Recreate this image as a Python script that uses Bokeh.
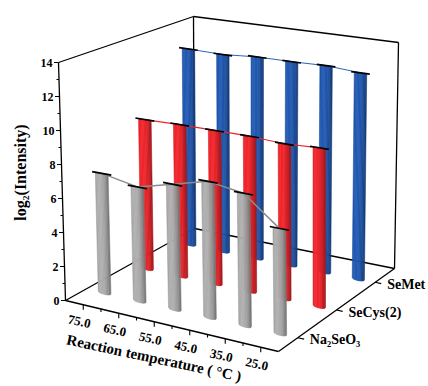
import numpy as np
from bokeh.plotting import figure
from bokeh.models import Range1d
from bokeh.core.properties import value
from bokeh.embed import file_html
from bokeh.resources import INLINE

# ---------------- data ----------------
temps = [75.0, 65.0, 55.0, 45.0, 35.0, 25.0]
series_names = ["Na₂SeO₃", "SeCys(2)", "SeMet"]
na2seo3 = [7.1, 6.7, 7.25, 7.8, 7.5, 5.9]
secys2 = [9.2, 9.25, 9.25, 9.25, 9.15, 9.25]
semet = [12.55, 12.5, 12.65, 12.65, 12.7, 12.55]
z_ticks = [0, 2, 4, 6, 8, 10, 12, 14]
x_minor = [70.0, 60.0, 50.0, 40.0, 30.0]
x_title = "Reaction temperature ( °C )"
z_title = "log₂(Intensity)"

T_LO, T_HI, Z_MAX = 20.0, 80.0, 14.0

# ---------------- camera (layout): box corners -> picture pixels ----------------
CAM = {(0, 0, 0): (65, 300), (0, 0, 1): (58, 62), (0, 1, 0): (194, 228),
       (0, 1, 1): (193, 16), (1, 1, 0): (394, 268), (1, 1, 1): (398, 42),
       (1, 0, 0): (278, 351), (1, 0, 1): (275, 95)}


def proj(u, v, w):
    x = y = 0.0
    for (a, b, c), (px, py) in CAM.items():
        f = (u if a else 1 - u) * (v if b else 1 - v) * (w if c else 1 - w)
        x += f * px
        y += f * py
    return x, y


def U(t):
    return (T_HI - t) / (T_HI - T_LO)


def V(k):
    return (k + 0.5) / len(series_names)


def W(z):
    return z / Z_MAX


p = figure(width=428, height=386, x_range=Range1d(0, 428), y_range=Range1d(386, 0),
           output_backend="svg", toolbar_location=None, min_border=0,
           x_axis_type=None, y_axis_type=None)
p.grid.visible = False
p.outline_line_color = None
p.background_fill_color = "white"

FONT = value("Liberation Serif")


def seg(a, b):
    return [a[0], b[0]], [a[1], b[1]]


C = {k: proj(*k) for k in CAM}
back_edges = [((0, 0, 0), (0, 0, 1)), ((0, 0, 1), (0, 1, 1)), ((0, 1, 1), (1, 1, 1)),
              ((1, 1, 1), (1, 1, 0)), ((0, 1, 0), (0, 1, 1)), ((0, 0, 0), (0, 1, 0)),
              ((0, 1, 0), (1, 1, 0))]
xs, ys = [], []
for a, b in back_edges:
    sx, sy = seg(C[a], C[b])
    xs.append(sx)
    ys.append(sy)
p.multi_line(xs, ys, line_color="black", line_width=1.3)

R = 0.03
NSTRIP = 10


def shade(rgb, t):
    th = np.arcsin(np.clip(t, -1, 1))
    I = 0.70 + 0.32 * np.cos(th + 0.45)
    return "#%02x%02x%02x" % tuple(int(min(255, c * I)) for c in rgb)


def draw_series(vals, k, rgb, line_color, lw):
    v = V(k)
    pxs, pys, cols = [], [], []
    for t, val in zip(temps, vals):
        u = U(t)
        w = W(val)
        pl = proj(u - R, v, 0)
        pr = proj(u + R, v, 0)
        b = 0.3 * abs(pr[0] - pl[0]) / 2
        ts = np.linspace(-1, 1, NSTRIP + 1)
        for i in range(NSTRIP):
            t0, t1 = ts[i], ts[i + 1]
            sub = np.linspace(t0, t1, 4)
            bx, by = [], []
            for tt in sub:
                q = proj(u + tt * R, v, 0)
                bx.append(q[0])
                by.append(q[1] + b * np.sqrt(max(0.0, 1 - tt * tt)))
            q1 = proj(u + t1 * R, v, w)
            q0 = proj(u + t0 * R, v, w)
            pxs.append(bx + [q1[0], q0[0]])
            pys.append(by + [q1[1], q0[1]])
            cols.append(shade(rgb, (t0 + t1) / 2))
    p.patches(pxs, pys, fill_color=cols, line_color=cols, line_width=0.6)
    tops = [proj(U(t), v, W(val)) for t, val in zip(temps, vals)]
    p.line([q[0] for q in tops], [q[1] for q in tops], line_color=line_color, line_width=lw)
    cx, cy = [], []
    for t, val in zip(temps, vals):
        a = proj(U(t) - 1.5 * R, v, W(val))
        bb = proj(U(t) + 1.5 * R, v, W(val))
        sx, sy = seg(a, bb)
        cx.append(sx)
        cy.append(sy)
    p.multi_line(cx, cy, line_color="black", line_width=1.7)


draw_series(semet, 2, (32, 88, 176), "#2a62c4", 1.0)
draw_series(secys2, 1, (238, 36, 42), "#e8262b", 1.2)
draw_series(na2seo3, 0, (172, 172, 172), "#8c8c8c", 1.5)

xs, ys = [], []
for a, b in [((0, 0, 0), (1, 0, 0)), ((1, 0, 0), (1, 1, 0))]:
    sx, sy = seg(C[a], C[b])
    xs.append(sx)
    ys.append(sy)
p.multi_line(xs, ys, line_color="black", line_width=1.3)

tx, ty = [], []
for z in range(0, 15):
    q = proj(0, 0, W(z))
    L = 4.5 if z % 2 == 0 else 2.5
    tx.append([q[0], q[0] - L])
    ty.append([q[1], q[1]])
p.multi_line(tx, ty, line_color="black", line_width=1.1)
zl = [proj(0, 0, W(z)) for z in z_ticks]
p.text([q[0] - 6 for q in zl], [q[1] for q in zl], text=[str(z) for z in z_ticks],
       text_font=FONT, text_font_style="bold", text_font_size="12px",
       text_align="right", text_baseline="middle", text_color="black")

tx, ty = [], []
for t in temps:
    q = proj(U(t), 0, 0)
    tx.append([q[0], q[0]])
    ty.append([q[1], q[1] + 5])
for t in x_minor:
    q = proj(U(t), 0, 0)
    tx.append([q[0], q[0]])
    ty.append([q[1], q[1] + 3])
p.multi_line(tx, ty, line_color="black", line_width=1.1)
xl = [proj(U(t), 0, 0) for t in temps]
p.text([q[0] - 4 for q in xl], [q[1] + 17 for q in xl], text=["%.1f" % t for t in temps],
       angle=-0.22, text_font=FONT, text_font_style="bold", text_font_size="13px",
       text_align="center", text_baseline="middle", text_color="black")

tx, ty = [], []
for k in range(len(series_names)):
    a = proj(1, V(k), 0)
    b = proj(1.03, V(k), 0)
    sx, sy = seg(a, b)
    tx.append(sx)
    ty.append(sy)
p.multi_line(tx, ty, line_color="black", line_width=1.1)
dl = [proj(1, V(k), 0) for k in range(len(series_names))]
p.text([q[0] + 12 for q in dl], [q[1] + 2 for q in dl], text=series_names,
       text_font=FONT, text_font_style="bold", text_font_size="14px",
       text_align="left", text_baseline="middle", text_color="black")

mid = proj(0.5, 0, 0)
p.text([mid[0] - 18], [mid[1] + 32], text=[x_title], angle=-0.21,
       text_font=FONT, text_font_style="bold", text_font_size="15px",
       text_align="center", text_baseline="middle", text_color="black")
zc = proj(0, 0, 0.5)
p.text([zc[0] - 42], [zc[1] - 9], text=[z_title], angle=np.pi / 2,
       text_font=FONT, text_font_style="bold", text_font_size="16px",
       text_align="center", text_baseline="middle", text_color="black")

open("out.html", "w").write(file_html(p, INLINE))
